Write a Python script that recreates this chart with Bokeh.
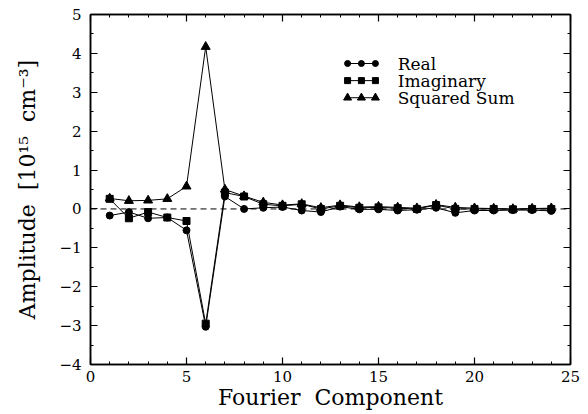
from bokeh.plotting import figure
from bokeh.models import LinearAxis, Range1d, Span, Label, FixedTicker
from bokeh.embed import file_html
from bokeh.resources import INLINE

# ---- data ----
component = list(range(1, 25))
real = [-0.17, -0.08, -0.24, -0.22, -0.55, -3.03, 0.32, 0.00, 0.03, 0.05, -0.04, -0.08,
        0.06, -0.01, -0.01, -0.04, -0.02, 0.03, -0.10, -0.04, -0.04, -0.03, -0.03, -0.05]
imaginary = [0.26, -0.24, -0.08, -0.22, -0.31, -2.95, 0.42, 0.32, 0.12, 0.08, 0.12, 0.00,
             0.08, 0.03, 0.04, 0.02, 0.00, 0.10, 0.00, 0.00, 0.00, -0.01, 0.00, 0.00]
squared_sum = [0.27, 0.21, 0.22, 0.26, 0.58, 4.17, 0.50, 0.33, 0.17, 0.10, 0.13, 0.03,
               0.10, 0.05, 0.06, 0.04, 0.02, 0.11, 0.04, 0.02, 0.01, 0.00, 0.01, 0.02]
x_ticks = [0, 5, 10, 15, 20, 25]
y_ticks = [-4, -3, -2, -1, 0, 1, 2, 3, 4, 5]
series_names = ["Real", "Imaginary", "Squared Sum"]

FONT = "DejaVu Serif"

p = figure(width=588, height=414, output_backend="svg", toolbar_location=None,
           x_range=Range1d(0, 25), y_range=Range1d(-4, 5),
           min_border_left=90, min_border_right=18, min_border_top=14, min_border_bottom=50)
p.grid.visible = False
p.outline_line_color = "black"
p.outline_line_width = 1.5
p.background_fill_color = "white"
p.border_fill_color = "white"

def style_axis(ax, labels=True):
    ax.axis_line_width = 1.5
    ax.major_tick_in = 7
    ax.major_tick_out = 0
    ax.minor_tick_in = 3
    ax.minor_tick_out = 0
    ax.major_tick_line_width = 1.2
    ax.minor_tick_line_width = 1
    ax.major_label_text_font = FONT
    ax.major_label_text_font_size = "15px"
    ax.major_label_text_color = "black"
    ax.axis_label_text_font = FONT
    ax.axis_label_text_font_size = "22px"
    ax.axis_label_text_font_style = "normal"
    ax.axis_label_text_color = "black"
    if not labels:
        ax.major_label_text_font_size = "0px"
        ax.major_label_text_color = None

p.xaxis.ticker = FixedTicker(ticks=x_ticks, minor_ticks=list(range(0, 26)))
p.yaxis.ticker = FixedTicker(ticks=y_ticks, minor_ticks=[v / 2 for v in range(-8, 11)])
style_axis(p.xaxis[0])
style_axis(p.yaxis[0])
p.xaxis.major_label_standoff = 6
p.yaxis.major_label_standoff = 9
p.xaxis.axis_label = "Fourier\u00a0\u00a0Component"
p.xaxis.axis_label_standoff = 0
p.yaxis.axis_label = "Amplitude\u00a0\u00a0[10\u00b9\u2075\u00a0\u00a0cm\u207b\u00b3]"
p.yaxis.axis_label_standoff = 16

top = LinearAxis(ticker=FixedTicker(ticks=x_ticks, minor_ticks=list(range(0, 26))))
style_axis(top, labels=False)
p.add_layout(top, "above")
right = LinearAxis(ticker=FixedTicker(ticks=y_ticks, minor_ticks=[v / 2 for v in range(-8, 11)]))
style_axis(right, labels=False)
p.add_layout(right, "right")

p.add_layout(Span(location=0, dimension="width", line_dash="6 4", line_width=1, line_color="black"))

p.line(component, real, line_color="black", line_width=1)
p.scatter(component, real, marker="circle", size=7, color="black")
p.line(component, imaginary, line_color="black", line_width=1)
p.scatter(component, imaginary, marker="square", size=7, color="black")
p.line(component, squared_sum, line_color="black", line_width=1)
p.scatter(component, squared_sum, marker="triangle", size=9, color="black")

# ---- legend (drawn by hand: three markers per sample) ----
leg_x = [13.39, 14.11, 14.84]
leg_y = [3.74, 3.30, 2.86]
markers = ["circle", "square", "triangle"]
sizes = [6, 6, 8]
for name, yy, mk, sz in zip(series_names, leg_y, markers, sizes):
    p.line(leg_x, [yy] * 3, line_color="black", line_width=1)
    p.scatter(leg_x, [yy] * 3, marker=mk, size=sz, color="black")
    p.add_layout(Label(x=16.0, y=yy, text=name, text_font=FONT, text_font_size="17px",
                       text_baseline="middle", text_color="black"))

open("out.html", "w").write(file_html(p, INLINE))
